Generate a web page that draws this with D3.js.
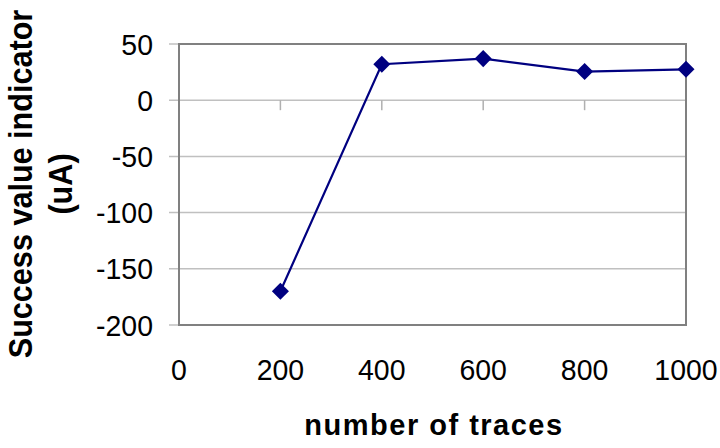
<!DOCTYPE html>
<html>
<head>
    <meta charset="UTF-8">
    <title>Success value indicator</title>
    <script src="https://d3js.org/d3.v7.min.js"></script>
    <style>
        body { margin: 0; background: #fff; }
        svg { display: block; }
        text { font-family: 'Liberation Sans', Arial, sans-serif; fill: #000; }
    </style>
</head>
<body>
    <svg width="720" height="448"></svg>
    <script>
        let traces = [200, 400, 600, 800, 1000];
        let successValue = [-170, 32, 37, 25.5, 27.5];
        let xTicks = [0, 200, 400, 600, 800, 1000];
        let yTicks = [50, 0, -50, -100, -150, -200];

        let width = 720, height = 448;
        let plotLeft = 179, plotRight = 686, plotTop = 44, plotBottom = 325;

        let svg = d3.select("svg");

        let x = d3.scaleLinear().domain([0, 1000]).range([plotLeft, plotRight]);
        let y = d3.scaleLinear().domain([-200, 50]).range([plotBottom, plotTop]);

        // gridlines
        svg.append("g")
            .selectAll("line")
            .data(yTicks)
            .enter().append("line")
            .attr("x1", plotLeft - 10)
            .attr("x2", plotRight)
            .attr("y1", d => y(d))
            .attr("y2", d => y(d))
            .attr("stroke", "#c0c0c0")
            .attr("stroke-width", 1.5);

        // x ticks hanging below the zero line
        svg.append("g")
            .selectAll("line")
            .data(xTicks)
            .enter().append("line")
            .attr("x1", d => x(d))
            .attr("x2", d => x(d))
            .attr("y1", y(0))
            .attr("y2", y(0) + 10)
            .attr("stroke", "#b0b0b0")
            .attr("stroke-width", 1.5);

        // plot border
        svg.append("rect")
            .attr("x", plotLeft)
            .attr("y", plotTop)
            .attr("width", plotRight - plotLeft)
            .attr("height", plotBottom - plotTop)
            .attr("fill", "none")
            .attr("stroke", "#808080")
            .attr("stroke-width", 2);

        // y tick labels (glyphs a bit narrow in the original)
        svg.append("g")
            .selectAll("text")
            .data(yTicks)
            .enter().append("text")
            .attr("transform", d => `translate(153,${y(d) + 10.5}) scale(0.95,1)`)
            .attr("text-anchor", "end")
            .attr("font-size", 30)
            .text(d => d);

        // x tick labels
        svg.append("g")
            .selectAll("text")
            .data(xTicks)
            .enter().append("text")
            .attr("transform", d => `translate(${x(d)},380) scale(0.95,1)`)
            .attr("text-anchor", "middle")
            .attr("font-size", 30)
            .text(d => d);

        // series
        let line = d3.line()
            .x((d, i) => x(traces[i]))
            .y(d => y(d));

        svg.append("path")
            .datum(successValue)
            .attr("d", line)
            .attr("fill", "none")
            .attr("stroke", "#000080")
            .attr("stroke-width", 2.2);

        svg.append("g")
            .selectAll("path")
            .data(successValue)
            .enter().append("path")
            .attr("d", d3.symbol(d3.symbolSquare, 145))
            .attr("transform", (d, i) => `translate(${x(traces[i])},${y(d)}) rotate(45)`)
            .attr("fill", "#000080");

        // axis titles
        svg.append("text")
            .attr("x", 434)
            .attr("y", 435)
            .attr("text-anchor", "middle")
            .attr("font-size", 29)
            .attr("font-weight", "bold")
            .attr("letter-spacing", 1.5)
            .text("number of traces");

        let yTitle = svg.append("text")
            .attr("transform", "translate(32,184) rotate(-90) scale(0.9,1)")
            .attr("text-anchor", "middle")
            .attr("font-size", 34)
            .attr("font-weight", "bold");
        yTitle.append("tspan").attr("x", 0).attr("y", 0).text("Success value indicator");
        yTitle.append("tspan").attr("x", 0).attr("y", 40).text("(uA)");
    </script>
</body>
</html>
